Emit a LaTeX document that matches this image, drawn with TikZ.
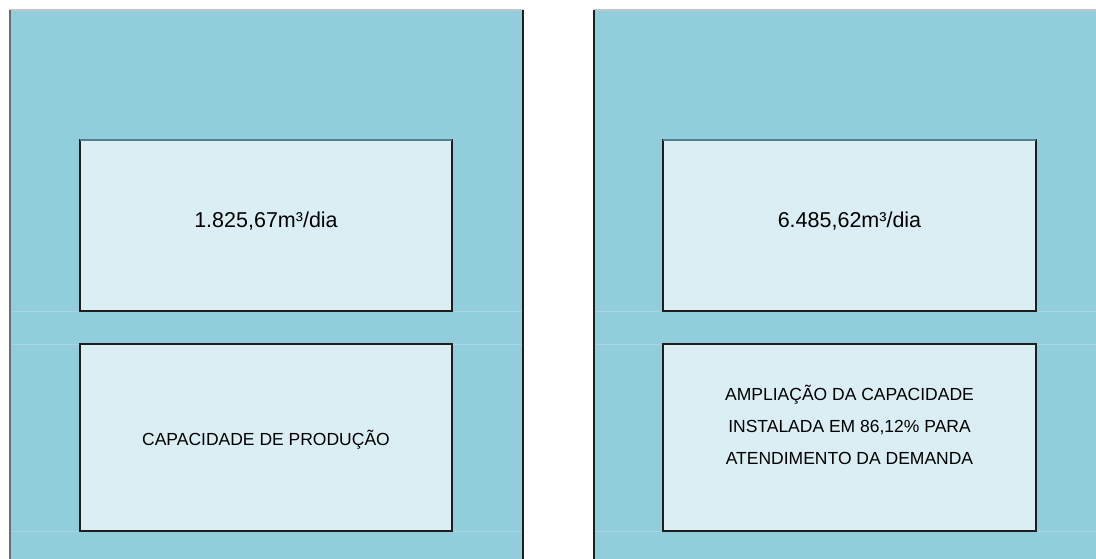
\documentclass[tikz,border=0pt]{standalone}
\usepackage{fontspec}
\setmainfont{Liberation Sans}
\definecolor{panelc}{HTML}{92CDDC}
\definecolor{boxc}{HTML}{DAEEF3}
\definecolor{seamc}{HTML}{A6D7E3}
\definecolor{topc}{HTML}{C4C4C4}
\definecolor{edgec}{HTML}{1E1E1E}
\definecolor{boxtopc}{HTML}{4F7F8E}
\begin{document}
\begin{tikzpicture}[x=1pt,y=-1pt,
  panel/.style={fill=panelc,draw=none,anchor=north west,inner sep=0pt,outer sep=0pt},
  infobox/.style={fill=boxc,draw=edgec,line width=1.2pt,anchor=north west,inner sep=0pt,outer sep=0pt},
  boxtop/.style={draw=boxtopc,line width=1.2pt},
  bigtxt/.style={font=\fontsize{21.5}{26}\selectfont,inner sep=0pt,align=center},
  smalltxt/.style={font=\fontsize{17.5}{32}\selectfont,inner sep=0pt,align=center},
  seam/.style={draw=seamc,line width=1pt}]
\useasboundingbox (0,0) rectangle (1096,559);
% panels
\node[panel,minimum width=513pt,minimum height=549pt] (pl) at (10,10) {};
\node[panel,minimum width=502pt,minimum height=549pt] (pr) at (594,10) {};
% seams
\draw[seam] (pl.west |- 0,311) -- (pl.east |- 0,311);
\draw[seam] (pl.west |- 0,344) -- (pl.east |- 0,344);
\draw[seam] (pl.west |- 0,531) -- (pl.east |- 0,531);
\draw[seam] (pr.west |- 0,311) -- (pr.east |- 0,311);
\draw[seam] (pr.west |- 0,344) -- (pr.east |- 0,344);
\draw[seam] (pr.west |- 0,531) -- (pr.east |- 0,531);
% panel edges
\draw[topc,line width=1.5pt] (pl.north west) -- (pl.north east);
\draw[topc,line width=1.5pt] (pr.north west) -- (pr.north east);
\draw[gray!85!black,line width=1.5pt] (pl.north west) -- (pl.south west);
\draw[edgec,line width=1.5pt] (pl.north east) -- (pl.south east);
\draw[edgec,line width=1.5pt] (pr.north west) -- (pr.south west);
% boxes
\node[infobox,minimum width=372pt,minimum height=171pt] (a1) at (80,140) {};
\node[infobox,minimum width=372pt,minimum height=187pt] (a2) at (80,344) {};
\node[infobox,minimum width=373pt,minimum height=171pt] (b1) at (663,140) {};
\node[infobox,minimum width=373pt,minimum height=187pt] (b2) at (663,344) {};
\draw[boxtop] (a1.north west) -- (a1.north east);
\draw[boxtop] (b1.north west) -- (b1.north east);
% texts
\node[bigtxt] (ta1) at ([yshift=4pt]a1.center) {1.825,67m³/dia};
\node[smalltxt] (ta2) at ([yshift=-2pt]a2.center) {CAPACIDADE DE PRODUÇÃO};
\node[bigtxt] (tb1) at ([yshift=4pt]b1.center) {6.485,62m³/dia};
\node[smalltxt] (tb2) at ([yshift=13pt]b2.center) {AMPLIAÇÃO DA CAPACIDADE\\INSTALADA EM 86,12\% PARA\\ATENDIMENTO DA DEMANDA};
\end{tikzpicture}
\end{document}
